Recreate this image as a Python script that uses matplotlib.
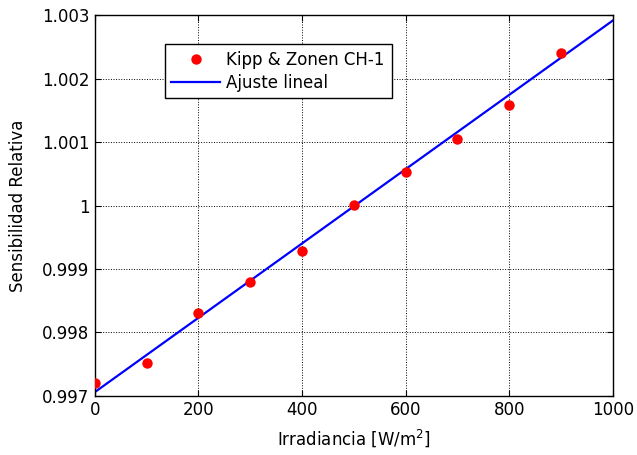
import matplotlib
matplotlib.use('Agg')
from matplotlib import pyplot as plt
import numpy as np

plt.rcParams['font.family'] = ['DejaVu Sans']

irradiancia = [0, 100, 200, 300, 400, 500, 600, 700, 800, 900]
sensibilidad = [0.99721, 0.99752, 0.99830, 0.99879, 0.99929,
                1.00001, 1.00053, 1.00105, 1.00158, 1.00241]
ajuste_x = [0, 1000]
ajuste_y = [0.99706, 1.00292]

fig = plt.figure(figsize=(6.37, 4.55), dpi=100)
ax = fig.add_axes([0.149, 0.130, 0.813, 0.836])

ax.plot(irradiancia, sensibilidad, 'o', color='#ff0000', markersize=7.5,
        markeredgewidth=0, label='Kipp & Zonen CH-1', zorder=3)
ax.plot(ajuste_x, ajuste_y, '-', color='#0000ff', linewidth=1.6,
        label='Ajuste lineal', zorder=2)

ax.set_xlim(0, 1000)
ax.set_ylim(0.997, 1.003)
ax.set_xticks(np.arange(0, 1001, 200))
ax.set_yticks([0.997, 0.998, 0.999, 1.0, 1.001, 1.002, 1.003])
ax.set_yticklabels(['0.997', '0.998', '0.999', '1', '1.001', '1.002', '1.003'])

ax.grid(True, color='black', linestyle=':', linewidth=0.7)
ax.tick_params(direction='in', top=True, right=True, length=4,
               labelsize=12, pad=4)
for s in ax.spines.values():
    s.set_linewidth(1.0)

ax.set_xlabel('Irradiancia [W/m$^2$]', fontsize=12, labelpad=6)
ax.set_ylabel('Sensibilidad Relativa', fontsize=12, labelpad=11)

leg = ax.legend(loc='upper left', bbox_to_anchor=(0.135, 0.925),
                fontsize=12, fancybox=False, framealpha=1,
                edgecolor='black', borderpad=0.4, handlelength=2.9,
                handletextpad=0.4, labelspacing=0.3, borderaxespad=0)
leg.get_frame().set_linewidth(1.0)

fig.savefig('out.png', dpi=100)
